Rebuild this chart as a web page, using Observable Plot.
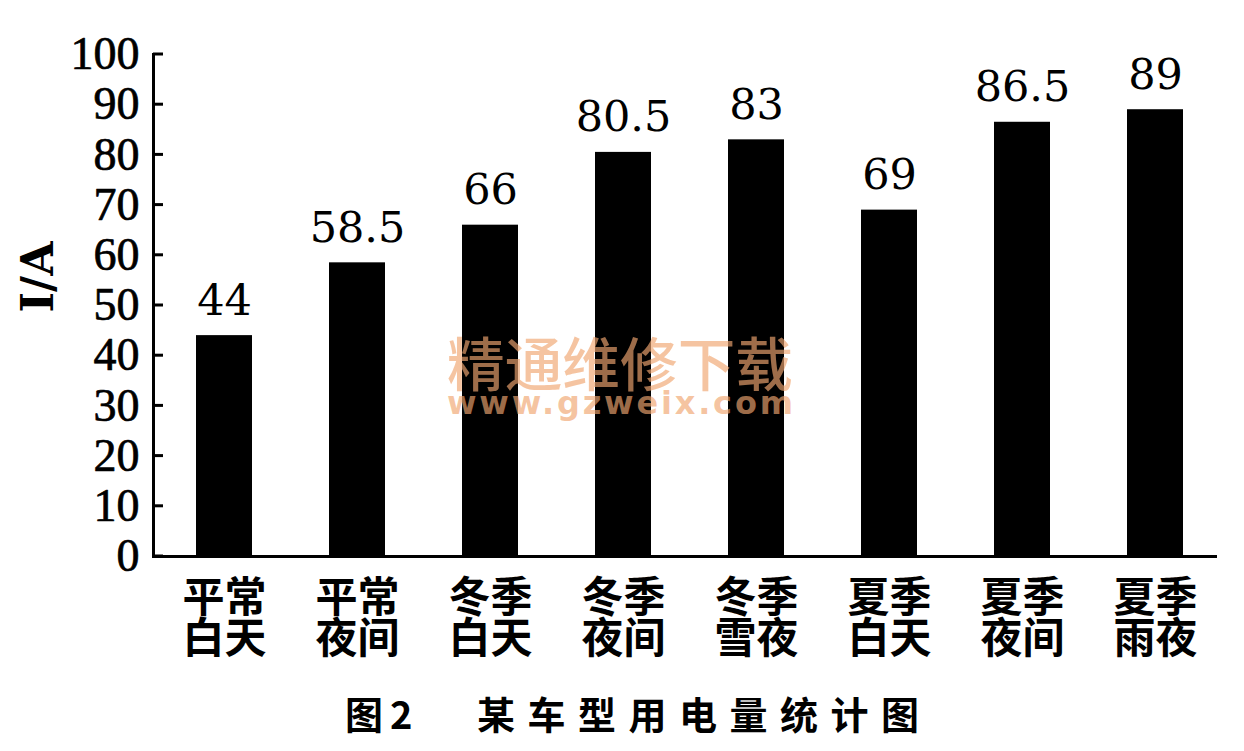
<!DOCTYPE html>
<html>
<head>
<meta charset="utf-8">
<script src="https://cdn.jsdelivr.net/npm/d3@7"></script>
<script src="https://cdn.jsdelivr.net/npm/@observablehq/plot@0.6"></script>
<style>
  body { margin: 0; background: #fff; }
  #wrap { position: relative; width: 1244px; height: 751px; overflow: hidden; background: #fff; }
  .cap {
    position: absolute; top: 684px; font-family: "Noto Sans CJK SC"; font-weight: 700; font-size: 38px;
    line-height: 58px; color: #000; white-space: pre;
  }
  #capNum { left: 345px; letter-spacing: 7px; }
  #capText { left: 477px; letter-spacing: 12.5px; }
  #stamp { position: absolute; left: 0; top: 0; pointer-events: none; }
</style>
</head>
<body>
<div id="wrap">
  <div id="chart"></div>
  <div class="cap" id="capNum">图2</div>
  <div class="cap" id="capText">某车型用电量统计图</div>
  <svg id="stamp" width="1244" height="751">
    <g fill="rgb(240,166,112)" fill-opacity="0.66">
      <text x="447" y="386" textLength="346" lengthAdjust="spacingAndGlyphs"
            font-family="Noto Sans CJK SC" font-weight="500" font-size="58">精通维修下载</text>
      <text x="447" y="414" textLength="346" lengthAdjust="spacing"
            font-family="DejaVu Sans" font-weight="700" font-size="32">www.gzweix.com</text>
    </g>
  </svg>
</div>
<script>
// Current drawn by one car model under different conditions (A)
const categories = ["平常\n白天", "平常\n夜间", "冬季\n白天", "冬季\n夜间", "冬季\n雪夜", "夏季\n白天", "夏季\n夜间", "夏季\n雨夜"];
const currents = [44, 58.5, 66, 80.5, 83, 69, 86.5, 89];
const yTicks = [0, 10, 20, 30, 40, 50, 60, 70, 80, 90, 100];
const yTitle = "I/A";

const rows = categories.map((category, i) => ({category, current: currents[i]}));

const marginLeft = 153;
const tickLength = 10;

const chart = Plot.plot({
  width: 1244,
  height: 668,
  marginTop: 54,
  marginBottom: 112,
  marginLeft,
  marginRight: 19,
  style: {background: "white", color: "black", overflow: "visible"},
  x: {domain: categories, paddingInner: 0.58, paddingOuter: 0.31, label: null},
  y: {domain: [0, 100], label: null},
  marks: [
    Plot.barY(rows, {x: "category", y: "current", fill: "black"}),
    Plot.text(rows, {
      x: "category", y: "current", text: d => String(d.current),
      lineAnchor: "bottom", dy: -21, fontSize: 43, fontFamily: "DejaVu Serif", fill: "black"
    }),
    Plot.axisY({
      ticks: yTicks, tickSize: 0, tickPadding: 14,
      fontSize: 46, fontFamily: "Liberation Serif", label: null,
      textStroke: "black", textStrokeWidth: 0.7
    }),
    Plot.axisX({
      tickSize: 0, tickPadding: 26, fontSize: 42, fontFamily: "Noto Sans CJK SC",
      fontWeight: 700, lineHeight: 0.98, label: null
    }),
    Plot.text([yTitle], {
      frameAnchor: "left", rotate: -90, dx: -115, dy: 7,
      fontSize: 44, fontWeight: "bold", fontFamily: "DejaVu Serif", fill: "black"
    }),
    Plot.ruleY([0], {strokeWidth: 3, insetRight: 8}),
    Plot.frame({anchor: "left", strokeWidth: 3})
  ]
});

// y ticks point right, into the plot area, placed with the chart's own y scale
const yScale = chart.scale("y");
d3.select(chart).append("g")
  .attr("stroke", "black")
  .attr("stroke-width", 3)
  .selectAll("line")
  .data(yTicks)
  .join("line")
  .attr("x1", marginLeft)
  .attr("x2", marginLeft + tickLength)
  .attr("y1", d => yScale.apply(d))
  .attr("y2", d => yScale.apply(d));

document.getElementById("chart").appendChild(chart);
</script>
</body>
</html>
